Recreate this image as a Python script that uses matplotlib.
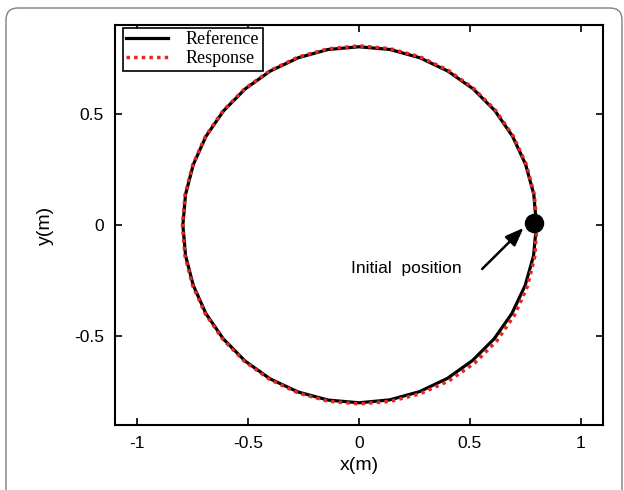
import numpy as np
import matplotlib
matplotlib.use("Agg")
import matplotlib.pyplot as plt
from matplotlib.patches import FancyBboxPatch
from matplotlib.transforms import IdentityTransform

# Trajectory data: angle (deg) and radius (m)
angles_deg = [0, 10, 20, 30, 40, 50, 60, 70, 80, 90, 100, 110, 120, 130, 140, 150,
              160, 170, 180, 190, 200, 210, 220, 230, 240, 250, 260, 270, 280, 290,
              300, 310, 320, 330, 340, 350, 360]
reference_r = [0.800, 0.800, 0.799, 0.799, 0.800, 0.800, 0.800, 0.801, 0.802, 0.802,
               0.802, 0.801, 0.800, 0.799, 0.798, 0.797, 0.795, 0.794, 0.794, 0.794,
               0.795, 0.797, 0.798, 0.799, 0.800, 0.800, 0.800, 0.800, 0.799, 0.798,
               0.797, 0.796, 0.796, 0.796, 0.797, 0.799, 0.800]
response_r = [0.802, 0.802, 0.802, 0.802, 0.803, 0.803, 0.804, 0.805, 0.806, 0.806,
              0.805, 0.804, 0.802, 0.801, 0.800, 0.799, 0.797, 0.796, 0.796, 0.797,
              0.798, 0.800, 0.801, 0.802, 0.803, 0.804, 0.805, 0.805, 0.806, 0.808,
              0.810, 0.811, 0.811, 0.810, 0.808, 0.805, 0.802]
initial_pos = (0.79, 0.01)
annot_text = "Initial  position"
arrow_head = (0.742, -0.013)
arrow_tail = (0.555, -0.198)
annot_text_xy = (0.215, -0.195)
xticks = [-1, -0.5, 0, 0.5, 1]
yticks = [-0.5, 0, 0.5]

th = np.deg2rad(angles_deg)
ref_x = np.array(reference_r) * np.cos(th)
ref_y = np.array(reference_r) * np.sin(th)
res_x = np.array(response_r) * np.cos(th)
res_y = np.array(response_r) * np.sin(th)

plt.rcParams['font.family'] = ['Liberation Sans', 'DejaVu Sans']

fig = plt.figure(figsize=(6.24, 4.9), dpi=100)
frame = FancyBboxPatch((6, -30), 616, 482 + 30, boxstyle="round,pad=0,rounding_size=12",
                       transform=IdentityTransform(), facecolor='none', edgecolor='#7f7f7f',
                       linewidth=1.0)
fig.patches.append(frame)

ax = fig.add_axes([115/624, 65/490, 488/624, 400/490])
ax.plot(ref_x, ref_y, color='black', lw=2.3, label='Reference', solid_joinstyle='round')
ax.plot(res_x, res_y, color='#e8251e', lw=2.5, linestyle=(0, (1.0, 1.2)), label='Response')
ax.plot([initial_pos[0]], [initial_pos[1]], 'o', color='black', ms=13)

ax.text(annot_text_xy[0], annot_text_xy[1], annot_text, fontsize=12.5, ha='center', va='center')
ax.annotate('', xy=arrow_head, xytext=arrow_tail,
            arrowprops=dict(arrowstyle='-|>,head_length=1.1,head_width=0.42', color='black',
                            lw=1.8, shrinkA=0, shrinkB=0))

ax.set_xlim(-1.1, 1.1)
ax.set_ylim(-0.9, 0.9)
ax.set_xticks(xticks)
ax.set_xticklabels(['-1', '-0.5', '0', '0.5', '1'])
ax.set_yticks(yticks)
ax.set_yticklabels(['-0.5', '0', '0.5'])
ax.tick_params(direction='in', top=True, right=True, length=5, width=1.2, labelsize=12.5, pad=8)
for s in ax.spines.values():
    s.set_linewidth(1.5)
ax.set_xlabel('x(m)', fontsize=14, labelpad=4)
ax.set_ylabel('y(m)', fontsize=14, labelpad=14)

leg = ax.legend(loc='upper left', bbox_to_anchor=(0.016, 0.993), borderaxespad=0,
                prop={'family': 'Liberation Serif', 'size': 13}, frameon=True, fancybox=False,
                edgecolor='black', framealpha=1, handlelength=2.3, borderpad=0.2,
                labelspacing=0.1, handletextpad=1.0)
leg.get_frame().set_linewidth(1.2)

fig.savefig('out.png', dpi=100)
